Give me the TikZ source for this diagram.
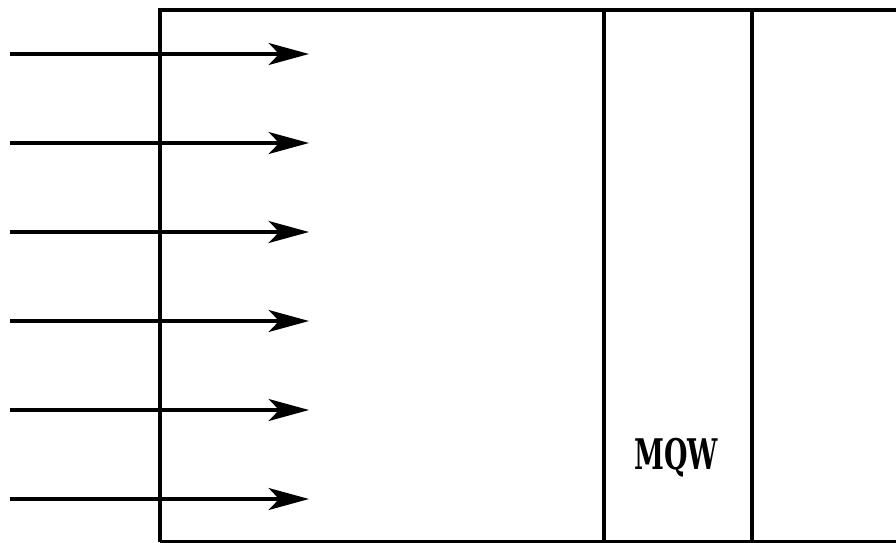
\documentclass[tikz,border=0pt]{standalone}
\usepackage{fontspec}
\newfontfamily\qwfont[FakeStretch=0.64]{DejaVu Serif}
\usetikzlibrary{arrows.meta}
\tikzset{
  wall/.style={line width=2pt},
  arr/.style={-{Stealth[length=23pt, width=12.5pt, inset=6pt]}, line width=2pt},
  lbl/.style={font=\qwfont\bfseries\fontsize{24}{28}\selectfont},
}

\begin{document}
\begin{tikzpicture}[x=0.02cm, y=-0.02cm]
  \useasboundingbox (0,0) rectangle (896,542);
  % layers
  \draw[wall] (896,10) -- (160,10) -- (160,542);
  \draw[wall] (604,10) -- (604,542);
  \draw[wall] (752,10) -- (752,542);
  \draw[wall] (160,542) -- (896,542);
  \node[lbl] (mqw) at (676,458) {MQW};
  % incident light
  \foreach \i/\y in {1/54, 2/143, 3/232, 4/321, 5/410, 6/499} {
    \coordinate (s\i) at (10,\y);
    \coordinate (t\i) at (309,\y);
    \draw[arr] (s\i) -- (t\i);
  }
\end{tikzpicture}
\end{document}
